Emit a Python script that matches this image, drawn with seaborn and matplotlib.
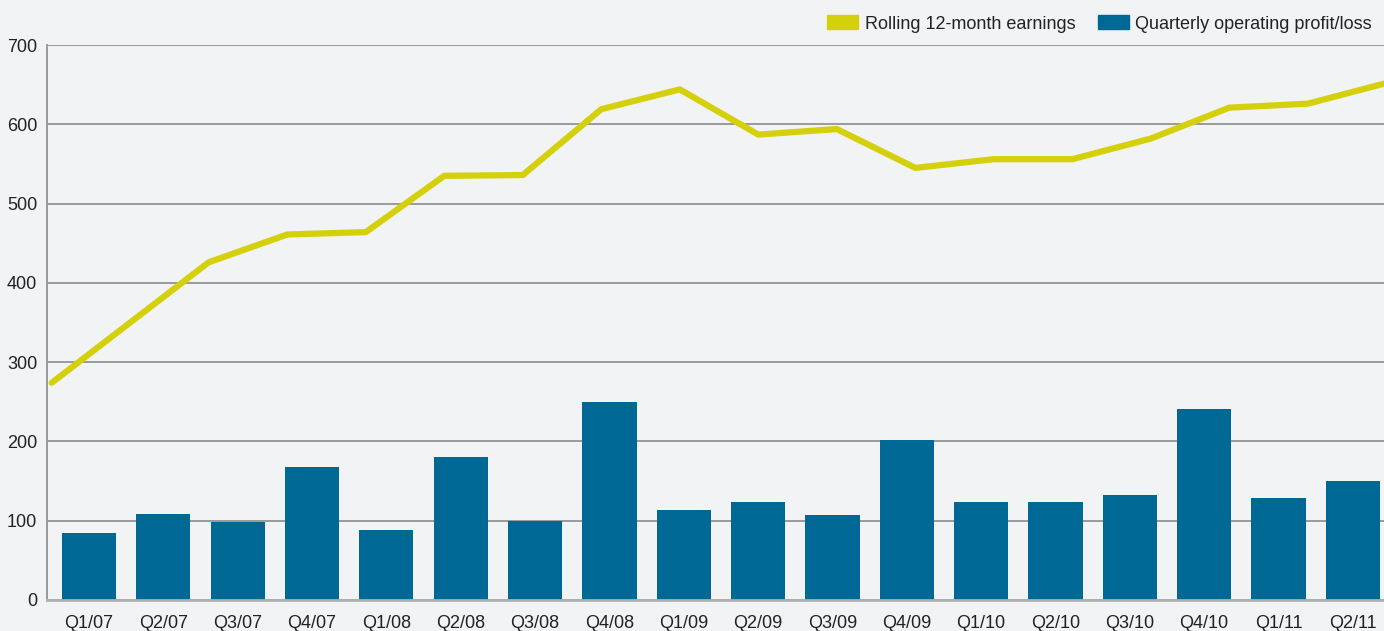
import numpy as np
import pandas as pd
import matplotlib
matplotlib.use('Agg')
import matplotlib.pyplot as plt
from matplotlib.patches import Patch
import seaborn as sns

# Dados
quarters = ['Q1/07', 'Q2/07', 'Q3/07', 'Q4/07', 'Q1/08', 'Q2/08', 'Q3/08', 'Q4/08', 'Q1/09',
            'Q2/09', 'Q3/09', 'Q4/09', 'Q1/10', 'Q2/10', 'Q3/10', 'Q4/10', 'Q1/11', 'Q2/11']
quarterly_profit = [84, 108, 99, 168, 88, 180, 100, 250, 113,
                    123, 107, 202, 124, 123, 133, 241, 129, 150]
rolling_earnings = [274, 350, 426, 461, 464, 535, 536, 619, 644,
                    587, 594, 545, 556, 556, 582, 621, 626, 652]
y_ticks = [0, 100, 200, 300, 400, 500, 600, 700]

bar_color = '#006894'
line_color = '#d4d10c'
grid_color = '#9a9a9a'
text_color = '#222222'

df = pd.DataFrame({'Quarter': quarters, 'Profit': quarterly_profit, 'Rolling': rolling_earnings})

sns.set_theme(style='white')
plt.rcParams['font.family'] = ['Liberation Sans', 'DejaVu Sans']

fig = plt.figure(figsize=(13.84, 6.31), dpi=100, facecolor='#f2f3f4')
ax = fig.add_axes([47 / 1384, 31 / 631, 1 - 47 / 1384, (600 - 45) / 631])
ax.set_facecolor('none')

# Barras do resultado trimestral
sns.barplot(data=df, x='Quarter', y='Profit', color=bar_color, width=0.73,
            saturation=1, linewidth=0, edgecolor='none', ax=ax, zorder=2)
ax.set_xlim(-0.565, 17.42)
ax.set_ylim(0, 700)
ax.set_yticks(y_ticks)
ax.yaxis.grid(True, color=grid_color, linewidth=1.4, zorder=0)
ax.set_axisbelow(True)
ax.set_xlabel('')
ax.set_ylabel('')
ax.tick_params(axis='both', length=0, labelsize=13, colors=text_color)
ax.tick_params(axis='x', pad=11)
ax.tick_params(axis='y', pad=7)
for s in ['top', 'right']:
    ax.spines[s].set_visible(False)
ax.spines['left'].set_color(grid_color)
ax.spines['bottom'].set_color('#b0b0b0')
ax.spines['left'].set_linewidth(1.4)
ax.spines['bottom'].set_linewidth(2)

# Linha de 12 meses (escala própria no eixo x)
ax2 = ax.twiny()
sns.lineplot(x=np.arange(len(rolling_earnings)), y=rolling_earnings, ax=ax2,
             color=line_color, linewidth=4.5, zorder=3)
ax2.set_xlim(-0.06, 16.97)
ax2.set_ylim(0, 700)
ax2.set_xticks([])
for s in ax2.spines.values():
    s.set_visible(False)

handles = [Patch(color=line_color, label='Rolling 12-month earnings'),
           Patch(color=bar_color, label='Quarterly operating profit/loss')]
fig.legend(handles=handles, loc='center right', bbox_to_anchor=(1372 / 1384, 1 - 24 / 631),
           ncol=2, frameon=False, fontsize=13, handlelength=1.72, handleheight=0.78,
           handletextpad=0.35, columnspacing=1.25, borderpad=0, borderaxespad=0,
           labelcolor=text_color)

fig.savefig('out.png', dpi=100, facecolor=fig.get_facecolor())
